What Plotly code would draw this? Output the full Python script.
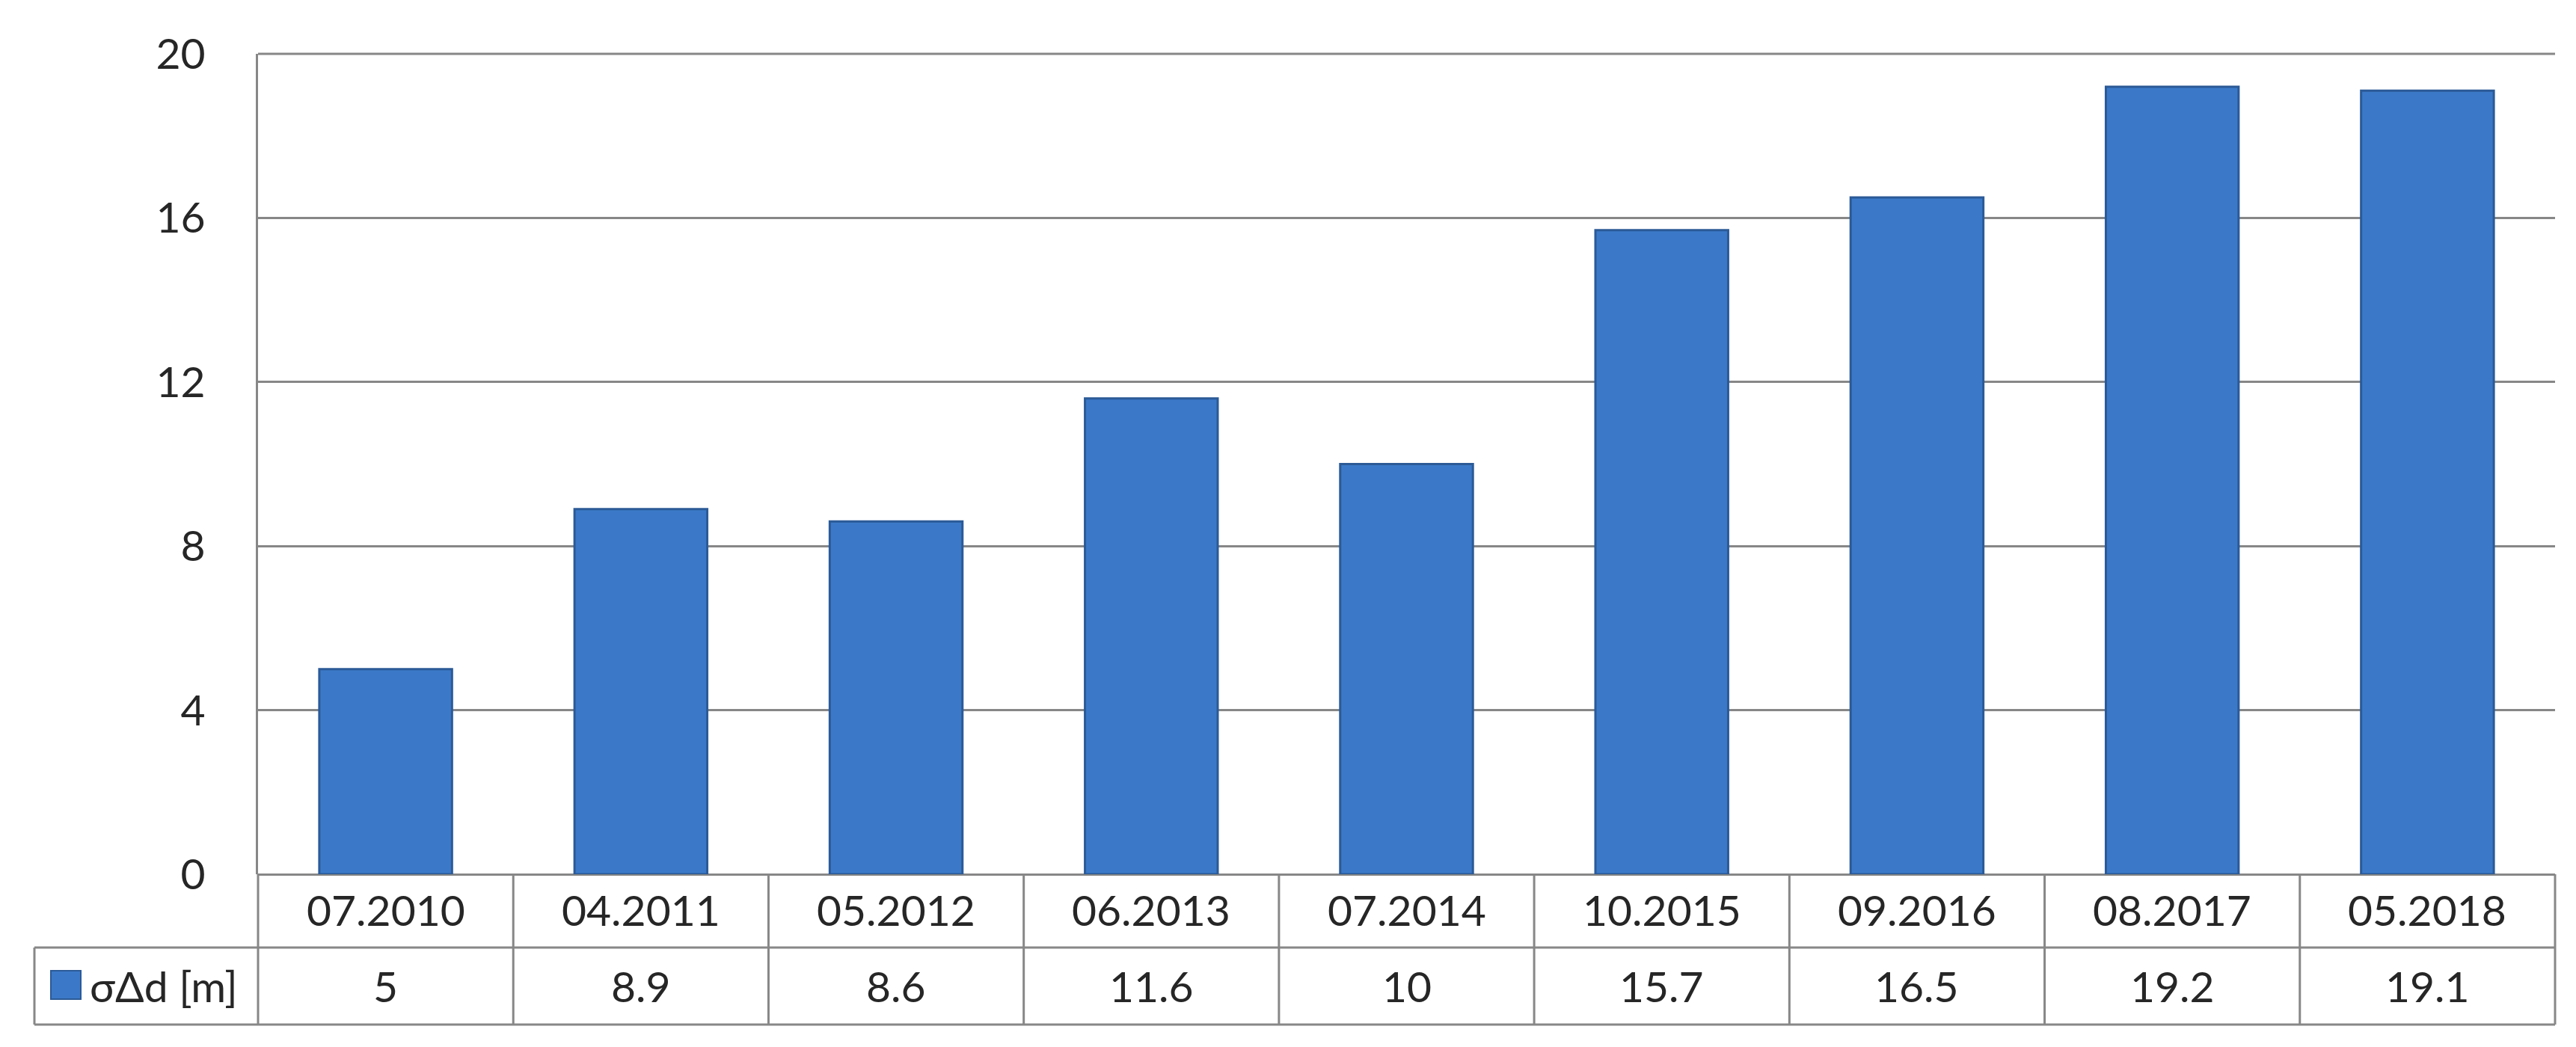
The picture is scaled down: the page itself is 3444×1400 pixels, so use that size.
import plotly.graph_objects as go

categories = ["07.2010", "04.2011", "05.2012", "06.2013", "07.2014",
              "10.2015", "09.2016", "08.2017", "05.2018"]
values = [5, 8.9, 8.6, 11.6, 10, 15.7, 16.5, 19.2, 19.1]
value_labels = ["5", "8.9", "8.6", "11.6", "10", "15.7", "16.5", "19.2", "19.1"]
series_name = "σΔd [m]"
y_ticks = [0, 4, 8, 12, 16, 20]

W, H = 3444, 1400
L, R, T, B = 337, 36, 64, 239
plot_w = W - L - R
plot_h = H - T - B

def px_to_py(p):
    return (H - B - p) / plot_h

def px_to_px(p):
    return (p - L) / plot_w

FONT = "Lato, Carlito, Calibri, sans-serif"
TXT = "#262626"
GRID = "#878787"
BAR = "#3b79c8"
BAR_EDGE = "#2b5a97"
FS = 57

fig = go.Figure()
fig.add_trace(go.Bar(
    x=list(range(len(categories))), y=values, name=series_name,
    marker=dict(color=BAR, line=dict(color=BAR_EDGE, width=3)),
    showlegend=False, hoverinfo="skip"))

n = len(categories)
row1_bot = px_to_py(1259)
row2_bot = px_to_py(1362)
row1_mid = px_to_py(1208)
row2_mid = px_to_py(1310)
leg_left = px_to_px(38)

shapes = []
line = dict(color=GRID, width=3)
# top gridline at the range maximum
shapes.append(dict(type="line", xref="paper", yref="paper",
                   x0=0, x1=1, y0=1, y1=1, line=line, layer="below"))
# vertical category boundaries in the table
for i in range(n + 1):
    shapes.append(dict(type="line", xref="paper", yref="paper",
                       x0=i / n, x1=i / n, y0=0, y1=row2_bot, line=line))
# horizontal table lines
for yy in (row1_bot, row2_bot):
    shapes.append(dict(type="line", xref="paper", yref="paper",
                       x0=leg_left, x1=1, y0=yy, y1=yy, line=line))
# legend cell left border
shapes.append(dict(type="line", xref="paper", yref="paper",
                   x0=leg_left, x1=leg_left, y0=row1_bot, y1=row2_bot, line=line))
# legend key square
shapes.append(dict(type="rect", xref="paper", yref="paper",
                   x0=px_to_px(60), x1=px_to_px(100),
                   y0=px_to_py(1328), y1=px_to_py(1290),
                   fillcolor=BAR, line=dict(color=BAR_EDGE, width=2)))

annotations = []
for i, c in enumerate(categories):
    annotations.append(dict(x=i, xref="x", y=row1_mid, yref="paper",
                            text=c, showarrow=False, xanchor="center",
                            yanchor="middle",
                            font=dict(family=FONT, size=FS, color=TXT)))
for i, v in enumerate(value_labels):
    annotations.append(dict(x=i, xref="x", y=row2_mid, yref="paper",
                            text=v, showarrow=False, xanchor="center",
                            yanchor="middle",
                            font=dict(family=FONT, size=FS, color=TXT)))
annotations.append(dict(x=px_to_px(110), xref="paper", y=row2_mid, yref="paper",
                        text=series_name, showarrow=False, xanchor="left",
                        yanchor="middle",
                        font=dict(family=FONT, size=FS, color=TXT)))

fig.update_layout(
    width=W, height=H,
    margin=dict(l=L, r=R, t=T, b=B, pad=0),
    paper_bgcolor="white", plot_bgcolor="white",
    bargap=0.48,
    shapes=shapes, annotations=annotations,
    xaxis=dict(range=[-0.5, n - 0.5], showticklabels=False, showgrid=False,
               zeroline=False, showline=False, fixedrange=True),
    yaxis=dict(range=[0, 20], tickvals=y_ticks, showgrid=True,
               gridcolor=GRID, gridwidth=3, zeroline=True, zerolinecolor=GRID,
               zerolinewidth=3, showline=True, linecolor=GRID, linewidth=3,
               ticks="", ticklabelstandoff=56,
               tickfont=dict(family=FONT, size=FS, color=TXT)),
)

fig.write_html("out.html")
